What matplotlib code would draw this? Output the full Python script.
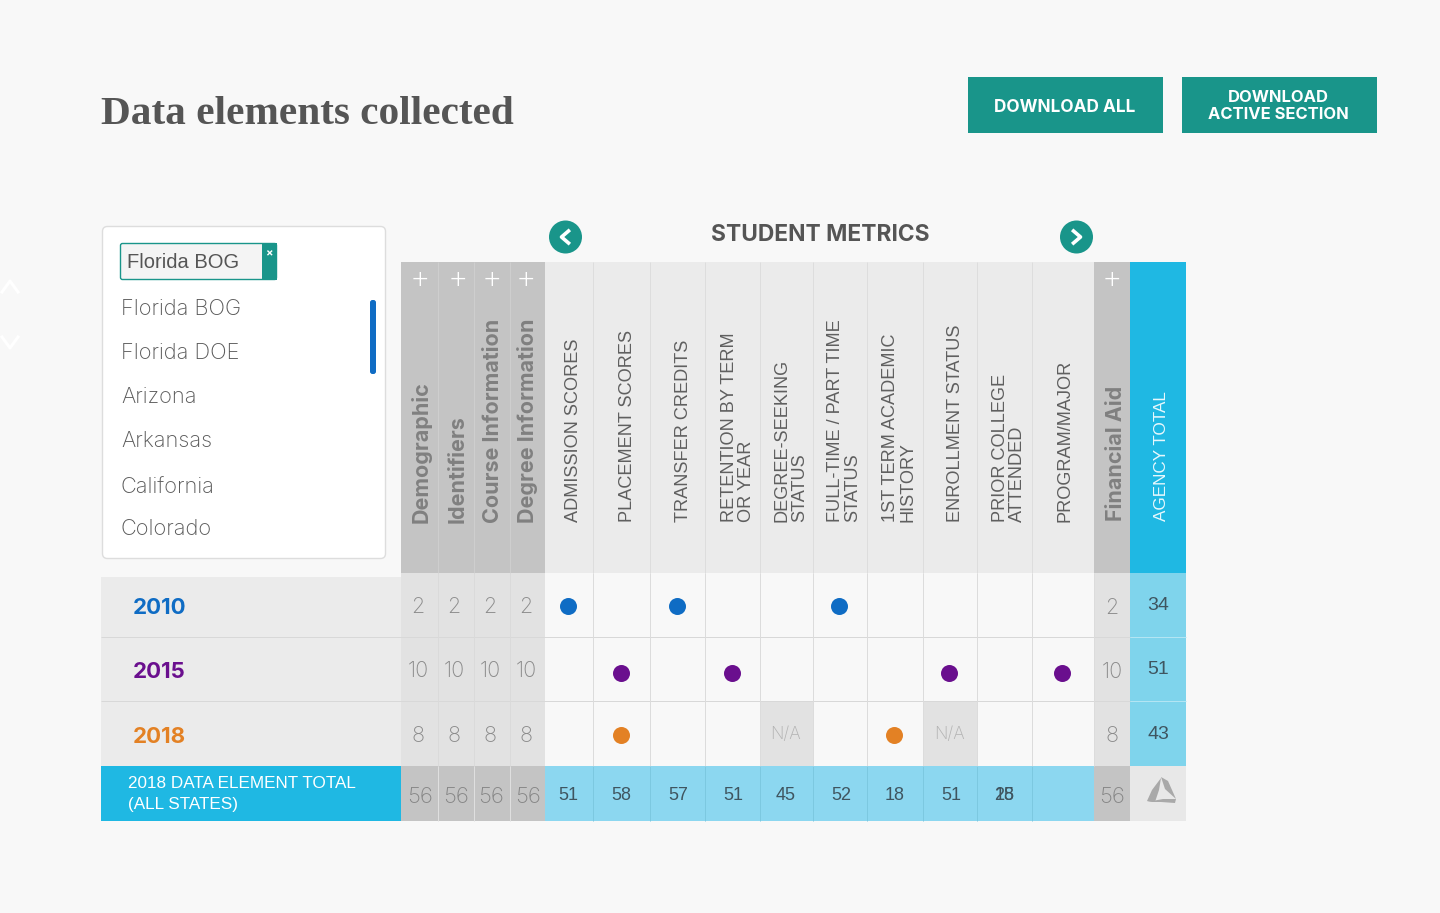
import matplotlib
matplotlib.use('Agg')
import matplotlib.pyplot as plt
from matplotlib.patches import Rectangle, FancyBboxPatch, Circle, Polygon

# data
title = 'Data elements collected'
section = 'STUDENT METRICS'
states = ['Florida BOG', 'Florida DOE', 'Arizona', 'Arkansas', 'California', 'Colorado']
group_names = ['Demographic', 'Identifiers', 'Course Information', 'Degree Information']
metric_names = ['ADMISSION SCORES', 'PLACEMENT SCORES', 'TRANSFER CREDITS',
                'RETENTION BY TERM\nOR YEAR', 'DEGREE-SEEKING\nSTATUS',
                'FULL-TIME / PART TIME\nSTATUS', '1ST TERM ACADEMIC\nHISTORY',
                'ENROLLMENT STATUS', 'PRIOR COLLEGE\nATTENDED', 'PROGRAM/MAJOR']
years = ['2010', '2015', '2018']
year_colors = ['#0f6cc4', '#6a0f8e', '#e38124']
group_counts = ['2', '10', '8']
agency_totals = ['34', '51', '43']
# 1 = collected, 0 = empty, -1 = N/A
marks = [[1, 0, 1, 0, 0, 1, 0, 0, 0, 0],
         [0, 1, 0, 1, 0, 0, 0, 1, 0, 1],
         [0, 1, 0, 0, -1, 0, 1, -1, 0, 0]]
metric_totals = ['51', '58', '57', '51', '45', '52', '18', '51', '25', '']
group_total = '56'

# layout, in reference pixels
group_x = [401, 438, 474, 510, 545]
metric_x = [545, 593, 650, 705, 760, 813, 867, 923, 977, 1032, 1094]
fin_x = [1094, 1130]
agency_x = [1130, 1186]
row_y = [573, 637, 701, 766]
head_top, total_bottom = 262, 821
state_y = [307, 351, 395, 439, 485, 527]
dot_y = [606, 673, 735]

TEAL = '#19958a'
CYAN = '#1fb8e3'
DARK = '#555555'
HELV = 'Liberation Sans'
SANS = 'Inter'
SERIF = 'Liberation Serif'

fig = plt.figure(figsize=(14.4, 9.13), dpi=100, facecolor='#f8f8f8')
ax = fig.add_axes([0, 0, 1, 1])
ax.set_xlim(0, 1440)
ax.set_ylim(913, 0)
ax.axis('off')


def box(x0, y0, x1, y1, color, z=1):
    ax.add_patch(Rectangle((x0, y0), x1 - x0, y1 - y0, fc=color, ec='none', zorder=z))


def vline(x, y0, y1, color='#dcdcdc', lw=0.7):
    ax.plot([x, x], [y0, y1], color=color, lw=lw, zorder=2, solid_capstyle='butt')


def hline(x0, x1, y, color='#dcdcdc', lw=0.7):
    ax.plot([x0, x1], [y, y], color=color, lw=lw, zorder=2, solid_capstyle='butt')


def txt(x, y, s, size, color=DARK, family=HELV, weight='normal', ha='center', va='center', **kw):
    ax.text(x, y, s, fontsize=size, color=color, family=family, weight=weight,
            ha=ha, va=va, zorder=5, **kw)


def mid(edges, i):
    return (edges[i] + edges[i + 1]) / 2


# title and buttons
txt(101, 115, title, 29.7, color='#555555', family=SERIF, weight='bold', ha='left')
box(968, 77, 1163, 133, TEAL)
box(1182, 77, 1377, 133, TEAL)
txt(1065, 107, 'DOWNLOAD ALL', 12.4, color='white', family=SANS, weight='bold')
txt(1278, 106, 'DOWNLOAD\nACTIVE SECTION', 11.9, color='white', family=SANS, weight='bold', linespacing=1.12)

# state picker
ax.add_patch(FancyBboxPatch((102.5, 226.5), 283, 332, boxstyle='round,pad=0,rounding_size=5',
                            fc='white', ec='#dddddd', lw=1, zorder=1))
ax.add_patch(FancyBboxPatch((120.5, 243.5), 156, 36, boxstyle='round,pad=0,rounding_size=2',
                            fc='#f4f4f4', ec=TEAL, lw=1, zorder=2))
box(262, 243, 277, 280, TEAL, z=3)
txt(269, 253, '×', 8, color='white', family=SANS, weight='bold')
txt(127, 262, states[0], 14.5, color='#555555', ha='left')
for name, y in zip(states, state_y):
    txt(121, y + 2, name, 15.7, color='#5a5a5a', family=SANS, weight='light', ha='left')
ax.add_patch(FancyBboxPatch((370, 300), 6, 74, boxstyle='round,pad=0,rounding_size=2.5',
                            fc='#0f6cc4', ec='none', zorder=2))
# faint chevrons at the left edge
ax.plot([2, 10, 18], [292, 281, 292], color='white', lw=2.2, zorder=2)
ax.plot([2, 10, 18], [337, 348, 337], color='white', lw=2.2, zorder=2)

# section header with arrows
txt(820, 235, section, 16.4, color='#555555', family=SANS, weight='bold')
for cx, cy, pts in [(565.5, 237, [(3, -6), (-4, 0), (3, 6)]), (1076.5, 237, [(-3, -6), (4, 0), (-3, 6)])]:
    ax.add_patch(Circle((cx, cy), 16.5, fc=TEAL, ec='none', zorder=3))
    ax.plot([cx + p[0] for p in pts], [cy + p[1] for p in pts], color='white', lw=2.6, zorder=4)

# header columns
box(group_x[0], head_top, group_x[-1], row_y[0], '#c4c4c4')
box(metric_x[0], head_top, metric_x[-1], row_y[0], '#ebebeb')
box(fin_x[0], head_top, fin_x[1], row_y[0], '#c4c4c4')
box(agency_x[0], head_top, agency_x[1], row_y[0], CYAN)
for x in group_x[1:-1]:
    vline(x, head_top, row_y[0], '#cfcfcf')
for x in metric_x[1:-1]:
    vline(x, head_top, row_y[0], '#dddddd')

plus_x = [420, 458, 492, 526, 1112]
for x in plus_x:
    txt(x, 280, '+', 23, color='white', family=SANS, weight='light')

group_tx = [421, 458, 493, 528]
for x, name in zip(group_tx, group_names):
    txt(x, 523, name, 15.5, color='#808080', family=SANS, weight='bold', rotation=90, va='bottom')
txt(1116, 521, 'Financial Aid', 15.5, color='#808080', family=SANS, weight='bold', rotation=90, va='bottom')
txt(1162, 521, 'AGENCY TOTAL', 12.3, color='#e8f8fd', rotation=90, va='bottom')

metric_tx = [574, 627, 684, 738, 791, 844, 899, 956, 1009, 1065]
for x, name in zip(metric_tx, metric_names):
    ax.text(x, 522, name, fontsize=13.1, color='#5f5f5f', family=HELV, rotation=90,
            ha='center', va='bottom', multialignment='left', linespacing=1.0, zorder=5)

# body rows
box(101, row_y[0] + 4, group_x[0], row_y[-1], '#ebebeb')
box(group_x[0], row_y[0], group_x[-1], row_y[-1], '#e2e2e2')
box(fin_x[0], row_y[0], fin_x[1], row_y[-1], '#e2e2e2')
box(agency_x[0], row_y[0], agency_x[1], row_y[-1], '#7fd4ec')

count_tx = [418, 454, 490, 526]
for r, year in enumerate(years):
    y0, y1 = row_y[r], row_y[r + 1]
    yc = (y0 + y1) / 2
    txt(133, yc + 3.5, year, 16, color=year_colors[r], family=SANS, weight='bold', ha='left')
    for x in count_tx:
        txt(x, yc + 2, group_counts[r], 15.5, color='#8a8a8a', family=SANS, weight='light')
    txt(1112, yc + 3, group_counts[r], 15.5, color='#8a8a8a', family=SANS, weight='light')
    txt(1158, yc + 1, agency_totals[r], 14, color='#3f5560', weight='normal')
    for c, m in enumerate(marks[r]):
        cx = mid(metric_x, c)
        if m == 1:
            ax.scatter([cx - 1], [dot_y[r]], s=150, color=year_colors[r], linewidths=0, zorder=4)
        elif m == -1:
            box(metric_x[c], y0, metric_x[c + 1], y1, '#e2e2e2', z=1.5)
            txt(cx - 1, yc + 1, 'N/A', 12.5, color='#b2b2b2', family=SANS, weight='light')

for y in row_y[1:-1]:
    hline(101, agency_x[0], y, '#d8d8d8')
for y in row_y[1:-1]:
    hline(agency_x[0], agency_x[1], y, '#b5e6f4')
for x in group_x[1:-1]:
    vline(x, row_y[0], row_y[-1], '#dadada')
for x in metric_x[1:]:
    vline(x, row_y[0], row_y[-1], '#dcdcdc')

# totals row
box(101, row_y[-1], group_x[0], total_bottom, CYAN)
box(group_x[0], row_y[-1], group_x[-1], total_bottom, '#c4c4c4')
box(metric_x[0], row_y[-1], metric_x[-1], total_bottom, '#8cd7f0')
box(fin_x[0], row_y[-1], fin_x[1], total_bottom, '#c4c4c4')
box(agency_x[0], row_y[-1], agency_x[1], total_bottom, '#e8e8e8')
for x in group_x[1:-1]:
    vline(x, row_y[-1], total_bottom, '#e0e0e0')
for x in metric_x[1:-1]:
    vline(x, row_y[-1], total_bottom, '#7cc8e0')
txt(128, 794, '2018 DATA ELEMENT TOTAL\n(ALL STATES)', 12.3, color='white', ha='left', linespacing=1.5)
total_tx = [420, 456, 491, 528]
for x in total_tx:
    txt(x, 797, group_total, 16, color='#858585', family=SANS, weight='light')
txt(1112, 797, group_total, 16, color='#858585', family=SANS, weight='light')
total_cx = [568, 621, 678, 733, 786, 841, 895, 951, 1004]
for x, v in zip(total_cx, metric_totals):
    txt(x, 795, v, 13, color='#3f5560')
# two numbers printed on top of each other in the source
txt(1005, 795, '18', 13, color='#3f5560')

# logo
logo = [[(1147, 801), (1152, 790), (1161, 778), (1159, 790), (1155, 802)],
        [(1161, 777), (1168, 781), (1176, 799), (1165, 789)],
        [(1147, 802), (1163, 799), (1176, 799), (1175, 803), (1161, 802)]]
for pts in logo:
    ax.add_patch(Polygon(pts, closed=True, fc='#a9a9a9', ec='none', zorder=4))

fig.savefig('out.png', dpi=100, facecolor=fig.get_facecolor())
